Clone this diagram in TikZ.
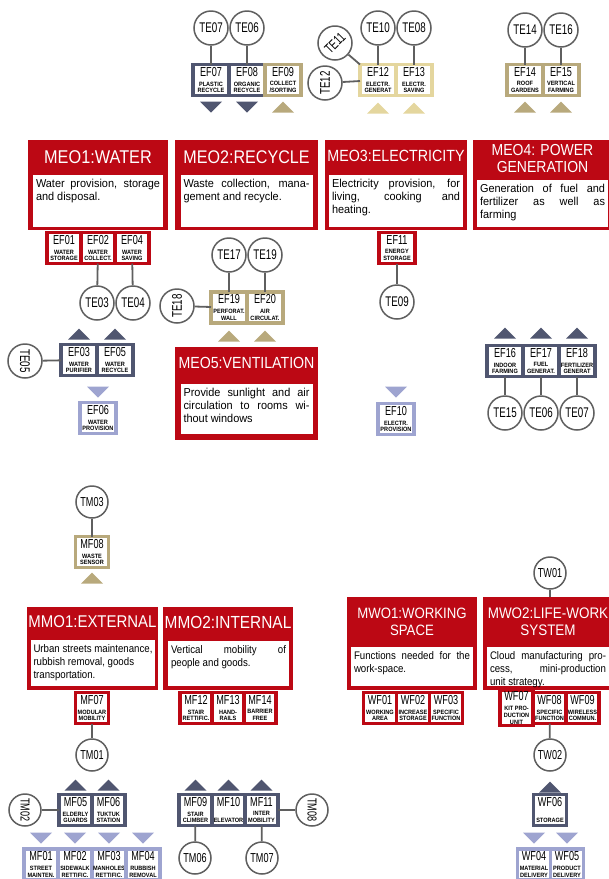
\documentclass[tikz,border=0pt]{standalone}
\usepackage{fontspec}
\setmainfont{Liberation Sans}
\newfontfamily\headfont[FakeStretch=0.88]{Liberation Sans}
\newfontfamily\descfont[FakeStretch=0.95]{Liberation Sans}
\newfontfamily\narrowfont[FakeStretch=0.7]{Liberation Sans}
\newfontfamily\subfont[FakeStretch=0.9]{Liberation Sans Bold}
\usetikzlibrary{positioning}

\definecolor{modred}{RGB}{188,8,20}
\definecolor{slate}{RGB}{80,86,112}
\definecolor{lilac}{RGB}{158,164,208}
\definecolor{sand}{RGB}{184,169,124}
\definecolor{straw}{RGB}{228,214,158}
\definecolor{wire}{RGB}{95,95,95}

\newcommand\flab[2]{{\narrowfont\fontsize{13}{13}\selectfont #1}\\[3pt]#2}

\tikzset{
  feature/.style={draw=#1, line width=3.5pt, fill=white, minimum width=36pt,
    minimum height=31pt, inner sep=1pt, outer sep=0pt, align=center,
    font=\subfont\fontsize{6.2}{6.8}\selectfont},
  featn/.style={feature=#1, minimum width=33pt},
  tcircle/.style={circle, draw=wire, line width=1.5pt, fill=white, minimum size=34pt,
    inner sep=0pt, font=\narrowfont\fontsize{14}{14}\selectfont},
  mcircle/.style={tcircle, minimum size=32pt, font=\narrowfont\fontsize{13}{13}\selectfont},
  link/.style={draw=wire, line width=1.8pt},
  module/.style={fill=modred, inner sep=0pt, outer sep=0pt},
  modhead/.style={text=white, align=center, inner sep=0pt,
    font=\headfont\fontsize{#1}{17}\selectfont},
  modhead/.default=16,
  moddesc/.style={fill=white, anchor=north, inner xsep=3pt, inner ysep=4pt,
    text height=8pt, align=justify, font=\descfont\fontsize{11.5}{13}\selectfont},
  mwdesc/.style={moddesc, font=\headfont\fontsize{11}{13}\selectfont},
  pics/upmark/.style={code={\fill[#1] (-11,5.5) -- (11,5.5) -- (0,-5.5) -- cycle;}},
  pics/dnmark/.style={code={\fill[#1] (-11,-5.5) -- (11,-5.5) -- (0,5.5) -- cycle;}}
}

\begin{document}
\begin{tikzpicture}[x=1pt, y=-1pt]
    \useasboundingbox (0,0) rectangle (609,879);
    \clip (0,0) rectangle (609,879);

    \node[feature=slate] (ef07) at (211,80) {\flab{EF07}{PLASTIC\\RECYCLE}};
    \node[feature=slate, right=0pt of ef07] (ef08) {\flab{EF08}{ORGANIC\\RECYCLE}};
    \node[feature=sand, right=0pt of ef08] (ef09) {\flab{EF09}{COLLECT\\/SORTING}};
    \node[tcircle] (te07) at (211,28) {TE07};
    \node[tcircle] (te06) at (247,28) {TE06};
    \draw[link] (te07) -- (ef07);
    \draw[link] (te06) -- (ef08);
    \pic at (211,107) {dnmark=slate};
    \pic at (247,107) {dnmark=slate};
    \pic at (283,107) {upmark=sand};

    \node[feature=straw] (ef12) at (378,80) {\flab{EF12}{ELECTR.\\GENERAT}};
    \node[feature=straw, right=0pt of ef12] (ef13) {\flab{EF13}{ELECTR.\\SAVING}};
    \node[tcircle, rotate=45] (te11) at (335,43) {TE11};
    \node[tcircle, rotate=90] (te12) at (325,83) {TE12};
    \node[tcircle] (te10) at (378,28) {TE10};
    \node[tcircle] (te08) at (414,28) {TE08};
    \draw[link] (te11) -- (ef12.north west);
    \draw[link] (te12) -- (ef12);
    \draw[link] (te10) -- (ef12);
    \draw[link] (te08) -- (ef13);
    \pic at (378,108) {upmark=straw};
    \pic at (414,108) {upmark=straw};

    \node[feature=sand] (ef14) at (525,80) {\flab{EF14}{ROOF\\GARDENS}};
    \node[feature=sand, right=0pt of ef14] (ef15) {\flab{EF15}{VERTICAL\\FARMING}};
    \node[tcircle] (te14) at (525,30) {TE14};
    \node[tcircle] (te16) at (561,30) {TE16};
    \draw[link] (te14) -- (ef14);
    \draw[link] (te16) -- (ef15);
    \pic at (525,107) {upmark=sand};
    \pic at (561,107) {upmark=sand};

    \node[module, minimum width=140pt, minimum height=90pt] (me01) at (98,185) {};
    \node[modhead=18.5] (me01h) at (98,157) {MEO1:WATER};
    \node[moddesc, text width=124pt, text depth=36pt] (me01d) at (98,175)
        {Water provision, storage\linebreak and disposal.};
    \node[feature=modred, minimum width=34pt] (ef01) at (64,248) {\flab{EF01}{WATER\\STORAGE}};
    \node[feature=modred, minimum width=34pt, right=0pt of ef01] (ef02) {\flab{EF02}{WATER\\COLLECT.}};
    \node[feature=modred, minimum width=34pt, right=0pt of ef02] (ef04) {\flab{EF04}{WATER\\SAVING}};
    \node[tcircle] (te03) at (97,303) {TE03};
    \node[tcircle] (te04) at (133,303) {TE04};
    \draw[link] (ef02) -- (te03);
    \draw[link] (ef04) -- (te04);

    \node[module, minimum width=143pt, minimum height=90pt] (me02) at (246.5,185) {};
    \node[modhead=18.3] (me02h) at (246.5,157) {MEO2:RECYCLE};
    \node[moddesc, text width=126pt, text depth=36pt] (me02d) at (246.5,175)
        {Waste collection, mana-\linebreak gement and recycle.};

    \node[module, minimum width=142pt, minimum height=90pt] (me03) at (396,185) {};
    \node[modhead=16.2] (me03h) at (396,156) {MEO3:ELECTRICITY};
    \node[moddesc, text width=128pt, text depth=36pt] (me03d) at (396,175)
        {Electricity provision, for\linebreak living, cooking and\linebreak heating.};
    \node[feature=modred] (ef11) at (397,248) {\flab{EF11}{ENERGY\\STORAGE}};
    \node[tcircle] (te09) at (397,302) {TE09};
    \draw[link] (ef11) -- (te09);

    \node[module, minimum width=139pt, minimum height=90pt] (me04) at (542.5,185) {};
    \node[modhead=15.9] (me04h) at (542.5,159) {MEO4: POWER\\GENERATION};
    \node[moddesc, text width=125pt, text depth=31pt] (me04d) at (542.5,180)
        {Generation of fuel and\linebreak fertilizer as well as\linebreak farming};

    \node[feature=sand] (ef19) at (229,307.5) {\flab{EF19}{PERFORAT.\\WALL}};
    \node[feature=sand, right=0pt of ef19] (ef20) {\flab{EF20}{AIR\\CIRCULAT.}};
    \node[tcircle] (te17) at (229,255) {TE17};
    \node[tcircle] (te19) at (265,255) {TE19};
    \node[tcircle, rotate=90] (te18) at (177,306) {TE18};
    \draw[link] (te17) -- (ef19);
    \draw[link] (te19) -- (ef20);
    \draw[link] (te18) -- (ef19);
    \pic at (229,336) {upmark=sand};
    \pic at (265,336) {upmark=sand};

    \node[module, minimum width=143pt, minimum height=93pt] (me05) at (246.5,393.5) {};
    \node[modhead=16.1] (me05h) at (246.5,363) {MEO5:VENTILATION};
    \node[moddesc, text width=126pt, text depth=34pt] (me05d) at (246.5,384)
        {Provide sunlight and air\linebreak circulation to rooms wi-\linebreak thout windows};

    \node[feature=slate] (ef03) at (79,360) {\flab{EF03}{WATER\\PURIFIER}};
    \node[feature=slate, right=0pt of ef03] (ef05) {\flab{EF05}{WATER\\RECYCLE}};
    \node[tcircle, rotate=-90] (te05) at (25,361) {TE05};
    \draw[link] (te05) -- (ef03);
    \pic at (79,334) {upmark=slate};
    \pic at (115,334) {upmark=slate};
    \pic at (98,392) {dnmark=lilac};
    \node[feature=lilac] (ef06) at (98,418) {\flab{EF06}{WATER\\PROVISION}};

    \pic at (396,392) {dnmark=lilac};
    \node[feature=lilac] (ef10) at (396,419) {\flab{EF10}{ELECTR.\\PROVISION}};

    \node[feature=slate] (ef16) at (505,361) {\flab{EF16}{INDOOR\\FARMING}};
    \node[feature=slate, right=0pt of ef16] (ef17) {\flab{EF17}{FUEL\\GENERAT.}};
    \node[feature=slate, right=0pt of ef17] (ef18) {\flab{EF18}{FERTILIZER\\GENERAT}};
    \node[tcircle] (te15) at (505,413) {TE15};
    \node[tcircle] (te06b) at (541,413) {TE06};
    \node[tcircle] (te07b) at (577,413) {TE07};
    \draw[link] (ef16) -- (te15);
    \draw[link] (ef17) -- (te06b);
    \draw[link] (ef18) -- (te07b);
    \pic at (505,333) {upmark=slate};
    \pic at (541,333) {upmark=slate};
    \pic at (577,333) {upmark=slate};

    \node[featn=sand] (mf08) at (92,552) {\flab{MF08}{WASTE\\SENSOR}};
    \node[mcircle] (tm03) at (92,502) {TM03};
    \draw[link] (tm03) -- (mf08);
    \pic at (92,578) {upmark=sand};

    \node[module, minimum width=131pt, minimum height=83pt] (mm01) at (92.5,648.5) {};
    \node[modhead=17] (mm01h) at (92.5,622) {MMO1:EXTERNAL};
    \node[mwdesc, text width=119pt, inner xsep=2.5pt, text depth=30pt] (mm01d) at (93,640)
        {Urban streets maintenance,\linebreak rubbish removal, goods\\ transportation.};
    \node[featn=modred] (mf07) at (92,708) {\flab{MF07}{MODULAR\\MOBILITY}};
    \node[mcircle] (tm01) at (92,755) {TM01};
    \draw[link] (mf07) -- (tm01);

    \node[featn=slate] (mf05) at (75.5,810) {\flab{MF05}{ELDERLY\\GUARDS}};
    \node[featn=slate, right=0pt of mf05] (mf06) {\flab{MF06}{TUKTUK\\STATION}};
    \node[mcircle, rotate=-90] (tm02) at (25,810) {TM02};
    \draw[link] (tm02) -- (mf05);
    \pic at (75.5,785) {upmark=slate};
    \pic at (108.5,785) {upmark=slate};
    \pic at (41,838) {dnmark=lilac};
    \pic at (75,838) {dnmark=lilac};
    \pic at (109,838) {dnmark=lilac};
    \pic at (143,838) {dnmark=lilac};
    \node[feature=lilac, minimum width=34pt] (mf01) at (41,864.5) {\flab{MF01}{STREET\\MAINTEN.}};
    \node[feature=lilac, minimum width=34pt, right=0pt of mf01] (mf02) {\flab{MF02}{SIDEWALK\\RETTIFIC.}};
    \node[feature=lilac, minimum width=34pt, right=0pt of mf02] (mf03) {\flab{MF03}{MANHOLES\\RETTIFIC.}};
    \node[feature=lilac, minimum width=34pt, right=0pt of mf03] (mf04) {\flab{MF04}{RUBBISH\\REMOVAL}};

    \node[module, minimum width=130pt, minimum height=83pt] (mm02) at (228,648.5) {};
    \node[modhead=17.5] (mm02h) at (228,622) {MMO2:INTERNAL};
    \node[mwdesc, text width=115pt, text depth=29pt] (mm02d) at (228.5,641)
        {Vertical mobility of\linebreak people and goods.};
    \node[feature=modred, minimum width=32pt] (mf12) at (196,708) {\flab{MF12}{STAIR\\RETTIFIC.}};
    \node[feature=modred, minimum width=32pt, right=0pt of mf12] (mf13) {\flab{MF13}{HAND-\\RAILS}};
    \node[feature=modred, minimum width=32pt, right=0pt of mf13] (mf14) {\flab{MF14}{BARRIER\\FREE}};

    \node[featn=slate] (mf09) at (195.5,810) {\flab{MF09}{STAIR\\CLIMBER}};
    \node[featn=slate, right=0pt of mf09] (mf10) {\flab{MF10}{\strut\\ELEVATOR}};
    \node[featn=slate, right=0pt of mf10] (mf11) {\flab{MF11}{INTER\\MOBILITY}};
    \node[mcircle, rotate=-90] (tm08) at (312,810) {TM08};
    \node[mcircle] (tm06) at (195,858) {TM06};
    \node[mcircle] (tm07) at (262,858) {TM07};
    \draw[link] (mf11) -- (tm08);
    \draw[link] (mf09) -- (tm06);
    \draw[link] (mf11) -- (tm07);
    \pic at (195.5,785) {upmark=slate};
    \pic at (228.5,785) {upmark=slate};
    \pic at (261.5,785) {upmark=slate};

    \node[module, minimum width=130pt, minimum height=93pt] (mw01) at (412,643.5) {};
    \node[modhead=15] (mw01h) at (412,621.5) {MWO1:WORKING\\SPACE};
    \node[mwdesc, text width=116pt, text depth=23pt] (mw01d) at (412,647)
        {Functions needed for the\linebreak work-space.};
    \node[featn=modred] (wf01) at (380,708) {\flab{WF01}{WORKING\\AREA}};
    \node[featn=modred, right=0pt of wf01] (wf02) {\flab{WF02}{INCREASE\\STORAGE}};
    \node[featn=modred, right=0pt of wf02] (wf03) {\flab{WF03}{SPECIFIC\\FUNCTION}};

    \node[module, minimum width=130pt, minimum height=93pt] (mw02) at (548,643.5) {};
    \node[modhead=15.3] (mw02h) at (548,621.5) {MWO2:LIFE-WORK\\SYSTEM};
    \node[mwdesc, text width=116pt, text depth=23pt] (mw02d) at (548,647)
        {Cloud manufacturing pro-\linebreak cess, mini-production\linebreak unit strategy.};
    \node[mcircle] (tw01) at (550,573) {TW01};
    \draw[link] (tw01) -- (tw01 |- mw02.north);
    \node[featn=modred] (wf07) at (516.5,708) {\flab{WF07}{KIT PRO-\\DUCTION\\UNIT}};
    \node[featn=modred, right=0pt of wf07] (wf08) {\flab{WF08}{SPECIFIC\\FUNCTION}};
    \node[featn=modred, right=0pt of wf08] (wf09) {\flab{WF09}{WIRELESS\\COMMUN.}};
    \node[mcircle] (tw02) at (550,755) {TW02};
    \draw[link] (wf08) -- (tw02);
    \pic at (550,787) {upmark=slate};
    \node[featn=slate] (wf06) at (550,810) {\flab{WF06}{\strut\\STORAGE}};
    \pic at (534,838) {dnmark=lilac};
    \pic at (567,838) {dnmark=lilac};
    \node[featn=lilac] (wf04) at (534,864.5) {\flab{WF04}{MATERIAL\\DELIVERY}};
    \node[featn=lilac, right=0pt of wf04] (wf05) {\flab{WF05}{PRODUCT\\DELIVERY}};
\end{tikzpicture}
\end{document}
